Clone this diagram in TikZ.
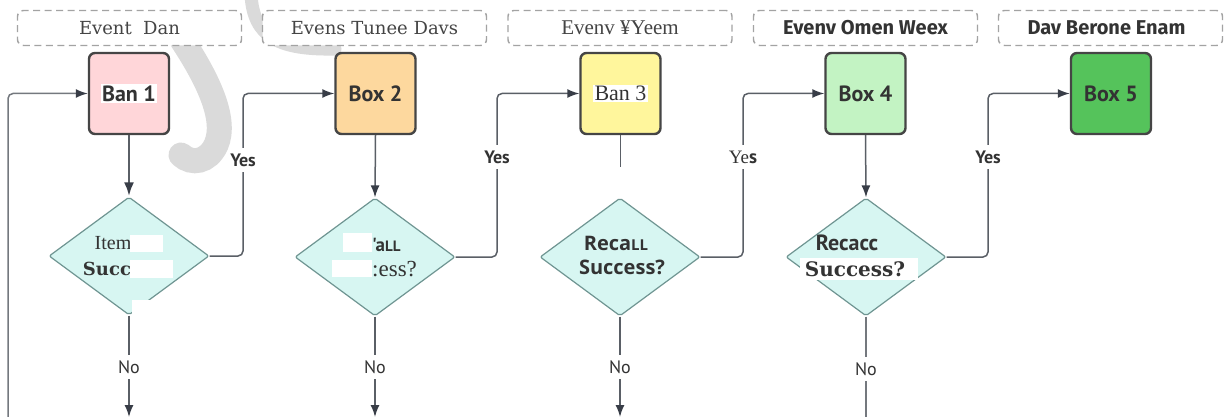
\documentclass[tikz,border=0pt]{standalone}
\usepackage{fontspec}
\usetikzlibrary{shapes.geometric,arrows.meta,calc}
\newfontfamily\ptsans{PT Sans}
\newfontfamily\firasans{Fira Sans}
\newfontfamily\opensans{Open Sans}
\newfontfamily\djserif{DejaVu Serif}
\newfontfamily\libserif{Liberation Serif}
\definecolor{linec}{HTML}{5A5F66}
\definecolor{loopc}{HTML}{74787E}
\definecolor{arrc}{HTML}{383D47}
\definecolor{boxline}{HTML}{454545}
\definecolor{txt}{HTML}{333333}
\definecolor{htxt}{HTML}{444444}
\definecolor{cA}{HTML}{FFD6D9}
\definecolor{cB}{HTML}{FDD89E}
\definecolor{cC}{HTML}{FFF69C}
\definecolor{cD}{HTML}{C3F3C3}
\definecolor{cE}{HTML}{55C35B}
\definecolor{dfill}{HTML}{D7F6F2}
\definecolor{dline}{HTML}{6F9592}
\definecolor{hline}{HTML}{A3A3A3}
\definecolor{swoosh}{HTML}{DADADA}
\newcommand\fsz[1]{\fontsize{#1}{#1}\selectfont}
\newcommand\wbg[1]{{\setlength\fboxsep{1.5pt}\colorbox{white}{#1}}}
\begin{document}
\begin{tikzpicture}[x=1pt,y=-1pt,
  hdr/.style={draw=hline, line width=1.4pt, dash pattern=on 7pt off 4.5pt, rounded corners=6pt, fill=white, minimum width=224pt, minimum height=35pt, inner sep=0pt, text=htxt},
  boxn/.style={draw=boxline, line width=2.4pt, rounded corners=6pt, minimum width=80pt, minimum height=81pt, inner sep=0pt, text=txt},
  dia/.style={diamond, draw=dline, line width=1.2pt, fill=dfill, minimum width=160pt, minimum height=118pt, inner sep=0pt, aspect=1.356, rounded corners=2pt},
  conn/.style={draw=linec, line width=1.5pt, rounded corners=5pt},
  tip/.style={-{Latex[length=12pt,width=9pt,color=arrc]}},
  lbl/.style={fill=white, inner sep=1pt, minimum height=24pt, text=txt, font=\ptsans\bfseries\fsz{18}},
  nolbl/.style={fill=white, inner sep=1pt, minimum height=24pt, text=txt, font=\ptsans\fsz{18}},
  dtxt/.style={inner sep=0pt, text=txt},
  bsans/.style={font=\ptsans\bfseries\fsz{22}},
]
\useasboundingbox (0,0) rectangle (1224,417);
\fill[white] (0,0) rectangle (1224,417);

% background swooshes
\draw[swoosh, line width=13pt, line cap=round] (251,-6) .. controls (253,38) and (280,50) .. (335,49);
\draw[swoosh, line width=25pt, line cap=round] (182,40) .. controls (205,75) and (228,118) .. (216,145) .. controls (208,162) and (192,165) .. (181,155);

% headers
\node[hdr, font=\djserif\fsz{18}] (h1) at (129.5,28) {Event\ \ Dan};
\node[hdr, font=\djserif\fsz{18}] (h2) at (374.5,28) {Evens Tunee Davs};
\node[hdr, font=\libserif\fsz{21}] (h3) at (620,28) {Evenv ¥Yeem};
\node[hdr, font=\firasans\bfseries\fsz{20}, text=txt] (h4) at (865.5,28) {Evenv Omen Weex};
\node[hdr, font=\firasans\bfseries\fsz{20}, text=txt] (h5) at (1110.5,28) {\hspace*{-8pt}Dav Berone Enam};

% boxes
\node[boxn, fill=cA, bsans] (b1) at (129,93.5) {\wbg{Ban 1}};
\node[boxn, fill=cB, bsans] (b2) at (375.5,93.5) {Box 2};
\node[boxn, fill=cC, font=\libserif\fsz{22}] (b3) at (620.5,93.5) {\wbg{Ban 3}};
\node[boxn, fill=cD, bsans] (b4) at (865.5,93.5) {Box 4};
\node[boxn, fill=cE, bsans] (b5) at (1111,93.5) {Box 5};

% diamonds
\node[dia] (d1) at (129,256) {};
\node[dia] (d2) at (375,257) {};
\node[dia] (d3) at (620,257) {};
\node[dia] (d4) at (866,257) {};

% diamond 1 text
\node[dtxt, font=\libserif\fsz{20}] (t1a) at (113,243) {Item};
\node[dtxt, font=\djserif\bfseries\fsz{18}] (t1b) at (107,269) {Succ};
\fill[white] (130,235) rectangle (163,252);
\fill[white] (130,260) rectangle (173,278);
\fill[white] (132,300) rectangle (157,319);

% diamond 2 text
\fill[white] (343,233) rectangle (372,252);
\node[dtxt, font=\ptsans\bfseries\fsz{19}, anchor=west] (t2a) at (372,245) {'a{\fsz{15}LL}};
\fill[white] (332,260) rectangle (372,277);
\node[dtxt, font=\libserif\fsz{23}, anchor=west] (t2b) at (372,269) {:ess?};

% diamond 3 text
\node[dtxt, font=\opensans\bfseries\fsz{20}] (t3a) at (616,243) {Reca{\fsz{15}LL}};
\node[dtxt, font=\opensans\bfseries\fsz{20}] (t3b) at (622,267) {Success?};

% diamond 4 text
\node[dtxt, font=\ptsans\bfseries\fsz{22}] (t4a) at (847,243) {Recacc};
\fill[white] (800,258) rectangle (918,280);
\node[dtxt, font=\djserif\bfseries\fsz{20}] (t4b) at (855,269) {Success?};

% coordinates
\coordinate (s0) at (8,417);
\coordinate (k1) at (243,93.5);
\coordinate (k2) at (497,93.5);
\coordinate (k3) at (743,93.5);
\coordinate (k4) at (988,93.5);
\coordinate (c3) at (620.5,167);
\coordinate (e1) at (129,417);
\coordinate (e2) at (375,417);
\coordinate (e3) at (620,417);
\coordinate (e4) at (866,417);

% connectors
\draw[conn, draw=loopc, tip] (s0) |- (b1.west);
\draw[conn, line width=2.8pt, -{Latex[length=14pt,width=10pt,color=arrc]}] (b1.south) -- (d1.north);
\draw[conn, tip] (b2.south) -- (d2.north);
\draw[conn] (b3.south) -- (c3);
\draw[conn, tip] (b4.south) -- (d4.north);

\draw[conn, tip] (d1.east) -| (k1) -- (b2.west);
\draw[conn, tip] (d2.east) -| (k2) -- (b3.west);
\draw[conn, tip] (d3.east) -| (k3) -- (b4.west);
\draw[conn, tip] (d4.east) -| (k4) -- (b5.west);

\draw[conn, tip] (d1.south) -- (e1);
\draw[conn, tip] (d2.south) -- (e2);
\draw[conn, tip] (d3.south) -- (e3);
\draw[conn, draw=loopc] (d4.south) -- (e4);

% labels
\node[lbl] (y1) at (243,160) {Yes};
\node[lbl] (y2) at (497,157) {Yes};
\node[lbl, font=\libserif\fsz{19}] (y3) at (743,157) {Ye{\ptsans\bfseries s}};
\node[lbl] (y4) at (988,157) {Yes};
\node[nolbl] (n1) at (129,367) {No};
\node[nolbl] (n2) at (375,367) {No};
\node[nolbl] (n3) at (620,367) {No};
\node[nolbl] (n4) at (866,369) {No};
\end{tikzpicture}
\end{document}
